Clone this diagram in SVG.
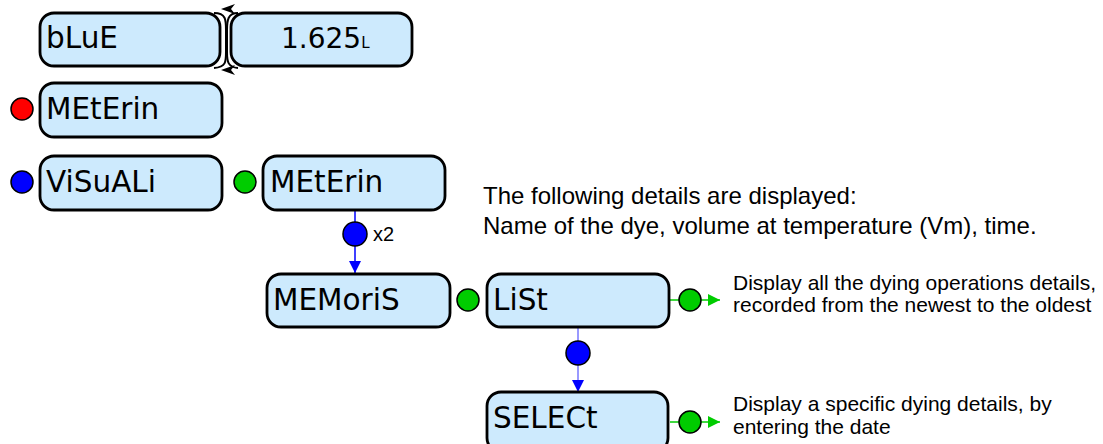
<svg xmlns="http://www.w3.org/2000/svg" width="1103" height="444" viewBox="0 0 1103 444">
<defs>
<style>
.box{fill:#cdeafd;stroke:#000;stroke-width:2.8}
.lbl{font-family:"DejaVu Sans",sans-serif;font-size:29.5px;fill:#000}
.txt{font-family:"Liberation Sans",Arial,sans-serif;font-size:24px;fill:#000}
.note{font-family:"Liberation Sans",Arial,sans-serif;font-size:21px;fill:#000}
.dot{stroke:#000;stroke-width:1.5}
</style>
<marker id="ab" markerWidth="12" markerHeight="12" refX="12" refY="6" orient="auto" markerUnits="userSpaceOnUse"><path d="M0,0 L12,6 L0,12 Z" fill="#0000ff"/></marker>
<marker id="ag" markerWidth="12" markerHeight="12" refX="12" refY="6" orient="auto" markerUnits="userSpaceOnUse"><path d="M0,0 L12,6 L0,12 Z" fill="#00cc00"/></marker>
</defs>
<g id="connectors" fill="none">
<path d="M214,13 C226,13 226,20 226,30 L226,52 C226,62 226,67 214,68" stroke="#000" stroke-width="2"/>
<path d="M238,13 C228,13 227,20 227,30 L227,52 C227,62 228,67 238,68" stroke="#000" stroke-width="2"/>
<path d="M235,4 L221,9 L235,14 L231,9 Z" fill="#000"/>
<path d="M235,65 L221,70 L235,75 L231,70 Z" fill="#000"/>
<line x1="355" y1="211" x2="355" y2="273" stroke="#0000ff" stroke-width="1.5" marker-end="url(#ab)"/>
<line x1="578" y1="328" x2="578" y2="392" stroke="#7777ff" stroke-width="1.5" marker-end="url(#ab)"/>
<line x1="670" y1="300" x2="720" y2="300" stroke="#00cc00" stroke-width="1.5" marker-end="url(#ag)"/>
<line x1="670" y1="422" x2="720" y2="422" stroke="#00cc00" stroke-width="1.5" marker-end="url(#ag)"/>
<circle class="dot" cx="355" cy="234" r="12" fill="#0000ff"/>
<circle class="dot" cx="578" cy="353" r="12" fill="#0000ff"/>
<circle class="dot" cx="690" cy="300" r="11" fill="#00cc00"/>
<circle class="dot" cx="690" cy="422" r="11" fill="#00cc00"/>
<text class="note" x="373" y="241" style="font-size:20px">x2</text>
</g>
<g id="blue">
<rect class="box" x="40" y="13" width="180" height="53" rx="14"/>
<text class="lbl" x="46" y="48">bLuE</text>
</g>
<g id="volume">
<rect class="box" x="231" y="13" width="181" height="53" rx="14"/>
<text class="lbl" x="281" y="48" style="font-size:28px">1.625<tspan style="font-size:15px">L</tspan></text>
</g>
<g id="meterin1">
<circle class="dot" cx="22" cy="109" r="11" fill="#ff0000"/>
<rect class="box" x="40" y="83" width="182" height="54" rx="14"/>
<text class="lbl" x="46" y="119">MEtErin</text>
</g>
<g id="visuali">
<circle class="dot" cx="22" cy="182" r="11" fill="#0000ff"/>
<rect class="box" x="40" y="156" width="182" height="54" rx="14"/>
<text class="lbl" x="46" y="192">ViSuALi</text>
</g>
<g id="meterin2">
<circle class="dot" cx="245" cy="182" r="11" fill="#00cc00"/>
<rect class="box" x="263" y="156" width="182" height="54" rx="14"/>
<text class="lbl" x="270" y="192">MEtErin</text>
</g>
<g id="memoris">
<rect class="box" x="267" y="274" width="183" height="53" rx="14"/>
<text class="lbl" x="273" y="310">MEMoriS</text>
</g>
<g id="list">
<circle class="dot" cx="468" cy="300" r="11" fill="#00cc00"/>
<rect class="box" x="487" y="274" width="182" height="53" rx="14"/>
<text class="lbl" x="493" y="310">LiSt</text>
</g>
<g id="select">
<rect class="box" x="487" y="392" width="181" height="60" rx="14"/>
<text class="lbl" x="493" y="428">SELECt</text>
</g>
<g id="notes">
<text class="txt" x="483" y="204">The following details are displayed:</text>
<text class="txt" x="483" y="234">Name of the dye, volume at temperature (Vm), time.</text>
<text class="note" x="733" y="290">Display all the dying operations details,</text>
<text class="note" x="733" y="312">recorded from the newest to the oldest</text>
<text class="note" x="733" y="411">Display a specific dying details, by</text>
<text class="note" x="733" y="434">entering the date</text>
</g>
</svg>
